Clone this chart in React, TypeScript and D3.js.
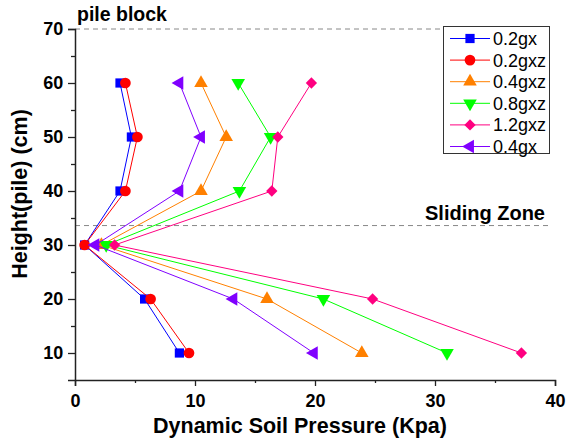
import * as React from 'react';
import {useEffect, useRef} from 'react';
import * as d3 from 'd3';

const heights = [10, 20, 30, 40, 50, 60];
const seriesNames = ['0.2gx', '0.2gxz', '0.4gxz', '0.8gxz', '1.2gxz', '0.4gx'];
const p02gx = [8.7, 5.8, 0.8, 3.75, 4.7, 3.75];
const p02gxz = [9.5, 6.3, 0.8, 4.2, 5.2, 4.2];
const p04gxz = [23.9, 16.0, 2.2, 10.5, 12.6, 10.5];
const p08gxz = [31.0, 20.7, 2.6, 13.7, 16.3, 13.6];
const p12gxz = [37.2, 24.8, 3.3, 16.4, 16.9, 19.7];
const p04gx = [19.9, 13.2, 1.7, 8.7, 10.5, 8.7];
const xTicks = [0, 10, 20, 30, 40];
const yTicks = [10, 20, 30, 40, 50, 60, 70];
const pileBlock = 70;
const slidingZone = 33.6;

const allSeries = [p02gx, p02gxz, p04gxz, p08gxz, p12gxz, p04gx];
const colors = ['#0000ff', '#ff0000', '#ff8000', '#00ff00', '#ff0080', '#8000ff'];
// symbol type, rotation, size per series
const markers: Array<[d3.SymbolType, number, number]> = [
    [d3.symbolSquare, 0, 85],
    [d3.symbolCircle, 0, 90],
    [d3.symbolTriangle, 0, 80],
    [d3.symbolTriangle, 180, 80],
    [d3.symbolSquare, 45, 64],
    [d3.symbolTriangle, -90, 80],
];

const W = 568, H = 441;
const margin = {left: 75, right: 13, top: 29, bottom: 61};
const FONT = '"Liberation Sans", Arial, sans-serif';

export default function App() {
    const xAxisRef = useRef<SVGGElement>(null);
    const yAxisRef = useRef<SVGGElement>(null);

    const x = d3.scaleLinear().domain([0, 40]).range([margin.left, W - margin.right]);
    const y = d3.scaleLinear().domain([5, 70]).range([H - margin.bottom, margin.top]);

    useEffect(() => {
        const xa = d3.select(xAxisRef.current!);
        xa.selectAll('*').remove();
        xa.call(d3.axisBottom(x).tickValues(d3.range(0, 41, 5)).tickSize(6)
            .tickFormat(d => (xTicks.includes(+d) ? String(d) : '')));
        xa.selectAll('.tick').filter((d: any) => !xTicks.includes(d)).select('line').attr('y2', 3);
        const ya = d3.select(yAxisRef.current!);
        ya.selectAll('*').remove();
        ya.call(d3.axisLeft(y).tickValues(d3.range(10, 71, 5)).tickSize(7)
            .tickFormat(d => (yTicks.includes(+d) ? String(d) : '')));
        ya.selectAll('.tick').filter((d: any) => !yTicks.includes(d)).select('line').attr('x2', -4);
        for (const a of [xa, ya]) {
            a.select('.domain').attr('stroke', '#222').attr('stroke-width', 1.5);
            a.selectAll('.tick line').attr('stroke', '#222').attr('stroke-width', 1.3);
            a.selectAll('.tick text').attr('font-family', FONT).attr('font-weight', 'bold')
                .attr('font-size', 18).attr('fill', '#000');
        }
        xa.selectAll('.tick text').attr('dy', '1.0em');
        ya.selectAll('.tick text').attr('dx', '-0.1em');
    }, []);

    const sym = (i: number) => d3.symbol().type(markers[i][0]).size(markers[i][2])();
    const line = d3.line<[number, number]>().x(d => x(d[0])).y(d => y(d[1]));

    return (
        <svg width={W} height={H} style={{position: 'absolute', left: 0, top: 0, background: '#fff'}}>
            <line x1={x(0)} x2={x(40) - 3} y1={y(pileBlock)} y2={y(pileBlock)}
                  stroke="#888" strokeDasharray="5,4" strokeWidth={1}/>
            <line x1={x(0)} x2={x(40) - 3} y1={y(slidingZone)} y2={y(slidingZone)}
                  stroke="#888" strokeDasharray="5,4" strokeWidth={1}/>
            <text x={77} y={21} fontFamily={FONT} fontWeight="bold" fontSize={19.5}>pile block</text>
            <text x={485} y={220} textAnchor="middle" fontFamily={FONT} fontWeight="bold" fontSize={20}>Sliding Zone</text>

            <g ref={xAxisRef} transform={`translate(0,${H - margin.bottom})`}/>
            <g ref={yAxisRef} transform={`translate(${margin.left},0)`}/>

            {allSeries.map((vals, i) => {
                const pts = vals.map((v, j) => [v, heights[j]] as [number, number]);
                return (
                    <g key={seriesNames[i]}>
                        <path d={line(pts) || ''} fill="none" stroke={colors[i]} strokeWidth={1}/>
                        {pts.map((p, j) => (
                            <path key={j} d={sym(i) || ''} fill={colors[i]}
                                  transform={`translate(${x(p[0])},${y(p[1])}) rotate(${markers[i][1]})`}/>
                        ))}
                    </g>
                );
            })}

            <rect x={443.5} y={26.5} width={106} height={127} fill="#fff" stroke="#333" strokeWidth={1}/>
            {seriesNames.map((name, i) => {
                const ly = 38.5 + i * 21.6;
                return (
                    <g key={name}>
                        <line x1={450} x2={490} y1={ly} y2={ly} stroke={colors[i]} strokeWidth={1}/>
                        <path d={sym(i) || ''} fill={colors[i]}
                              transform={`translate(470,${ly}) rotate(${markers[i][1]})`}/>
                        <text x={493} y={ly + 6.5} fontFamily={FONT} fontSize={18}>{name}</text>
                    </g>
                );
            })}

            <text x={300} y={H - 8} textAnchor="middle" fontFamily={FONT} fontWeight="bold" fontSize={21.5}>
                Dynamic Soil Pressure (Kpa)
            </text>
            <text transform={`translate(27,194) rotate(-90)`} textAnchor="middle"
                  fontFamily={FONT} fontWeight="bold" fontSize={21.5}>Height(pile) (cm)</text>
        </svg>
    );
}
